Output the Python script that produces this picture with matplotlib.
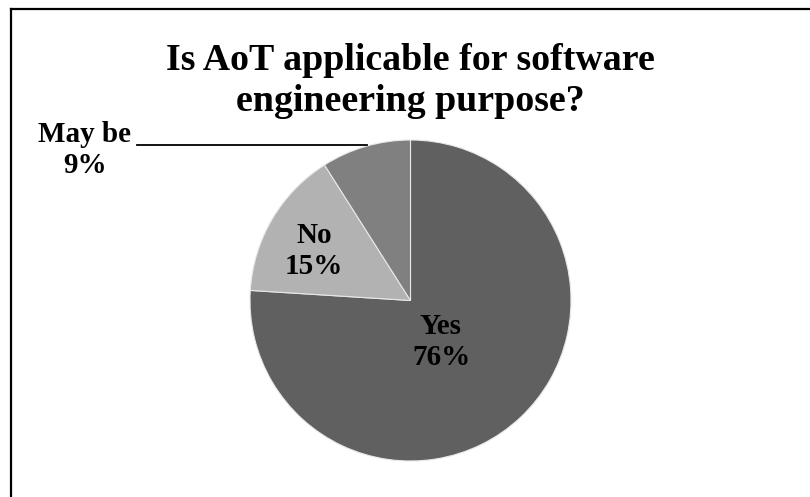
import matplotlib
matplotlib.use("Agg")
import matplotlib.pyplot as plt
from matplotlib.lines import Line2D

plt.rcParams['font.family'] = ['Liberation Serif', 'DejaVu Serif']
plt.rcParams['font.weight'] = 'bold'

labels = ["Yes", "No", "May be"]
shares = [76, 15, 9]
colors = ["#606060", "#b2b2b2", "#808080"]
title = "Is AoT applicable for software\nengineering purpose?"

W, H = 810, 497
fig = plt.figure(figsize=(W / 100, H / 100), dpi=100)

# pie box in pixels: centre (410.5, 300.5), radius 160.5
cx, cy, r = 410.5, 300.5, 160.5
ax = fig.add_axes([(cx - r) / W, (H - cy - r) / H, 2 * r / W, 2 * r / H])
ax.pie(shares, colors=colors, startangle=90, counterclock=False, radius=1,
       wedgeprops=dict(edgecolor="#e8e8e8", linewidth=0.8))
ax.set_xlim(-1, 1)
ax.set_ylim(-1, 1)
ax.set_aspect("equal")
ax.axis("off")


def to_data(px, py):
    return (px - cx) / r, (cy - py) / r


# data labels
label_pos = {"Yes": (441, 342), "No": (314, 251), "May be": (85, 150)}
for name, val in zip(labels, shares):
    x, y = to_data(*label_pos[name])
    ax.text(x, y, f"{name}\n{val}%", ha="center", va="center",
            fontsize=21, fontweight="bold", linespacing=1.15, clip_on=False)

# leader line for the small slice
x0, y0 = to_data(137, 145)
x1, y1 = to_data(367, 145)
ax.plot([x0, x1], [y0, y1], color="black", linewidth=1.3, clip_on=False)

fig.text(410 / W, 1 - 81 / H, title, ha="center", va="center",
         fontsize=27.3, fontweight="bold", linespacing=1.22)

# chart frame (top and left edges)
fig.add_artist(Line2D([10.5 / W, 1], [1 - 9 / H, 1 - 9 / H],
                      transform=fig.transFigure, color="black", linewidth=1.6))
fig.add_artist(Line2D([10.5 / W, 10.5 / W], [0, 1 - 9 / H],
                      transform=fig.transFigure, color="black", linewidth=1.6))

fig.savefig("out.png", dpi=100, facecolor="white")
